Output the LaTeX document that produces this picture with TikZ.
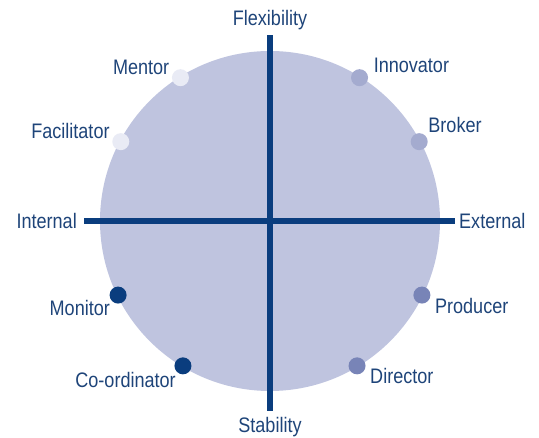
\documentclass[tikz,border=0pt]{standalone}
\usepackage{fontspec}
\setmainfont[FakeStretch=0.86]{Liberation Sans}
\usetikzlibrary{positioning,calc}

\definecolor{axisblue}{HTML}{0A3D7E}
\definecolor{labelblue}{HTML}{1E4479}
\definecolor{discfill}{HTML}{BFC4DF}
\definecolor{dotpale}{HTML}{E9EBF5}
\definecolor{dotlight}{HTML}{A4ABCF}
\definecolor{dotmid}{HTML}{7884B7}

\tikzset{
  role/.style={circle, inner sep=0pt, minimum size=17pt},
  rolename/.style={inner sep=0pt, text=labelblue},
  axisline/.style={draw=axisblue, line width=6pt}
}

\begin{document}
\begin{tikzpicture}[x=1pt, y=1pt, font=\fontsize{21}{24}\selectfont]
    \useasboundingbox (0,0) rectangle (539,438);
    \coordinate (c) at (270,217);
    \fill[discfill] (c) circle (170);

    % axes
    \coordinate (top) at (270,403);
    \coordinate (bottom) at (270,27);
    \coordinate (left) at (84,217);
    \coordinate (right) at (455,217);
    \draw[axisline] (left) -- (right);
    \draw[axisline] (bottom) -- (top);
    \node[rolename, anchor=base] (flex) at (270,412) {Flexibility};
    \node[rolename, anchor=base] (stab) at (270,5) {Stability};
    \node[rolename, left=7pt of left] (int) {Internal};
    \node[rolename, right=4pt of right] (ext) {External};

    % roles on the rim
    \node[role, fill=dotpale] (mentor) at ($(c)+(122:169)$) {};
    \node[role, fill=dotpale] (facil) at ($(c)+(152:169)$) {};
    \node[role, fill=dotlight] (innov) at ($(c)+(58:169)$) {};
    \node[role, fill=dotlight] (broker) at ($(c)+(28:169)$) {};
    \node[role, fill=dotmid] (prod) at ($(c)+(-26:169)$) {};
    \node[role, fill=dotmid] (dir) at ($(c)+(-59:169)$) {};
    \node[role, fill=axisblue] (monitor) at ($(c)+(206:169)$) {};
    \node[role, fill=axisblue] (coord) at ($(c)+(239:169)$) {};

    \node[rolename, anchor=base east] (mentorlbl) at ([shift={(-11,3)}]mentor) {Mentor};
    \node[rolename, anchor=base east] (facillbl) at ([shift={(-11,3)}]facil) {Facilitator};
    \node[rolename, anchor=base west] (innovlbl) at ([shift={(14,5)}]innov) {Innovator};
    \node[rolename, anchor=base west] (brokerlbl) at ([shift={(9,9)}]broker) {Broker};
    \node[rolename, anchor=base west] (prodlbl) at ([shift={(13,-18)}]prod) {Producer};
    \node[rolename, anchor=base west] (dirlbl) at ([shift={(13,-18)}]dir) {Director};
    \node[rolename, anchor=base east] (monitorlbl) at ([shift={(-8,-20)}]monitor) {Monitor};
    \node[rolename, anchor=base east] (coordlbl) at ([shift={(-7,-22)}]coord) {Co-ordinator};
\end{tikzpicture}
\end{document}
